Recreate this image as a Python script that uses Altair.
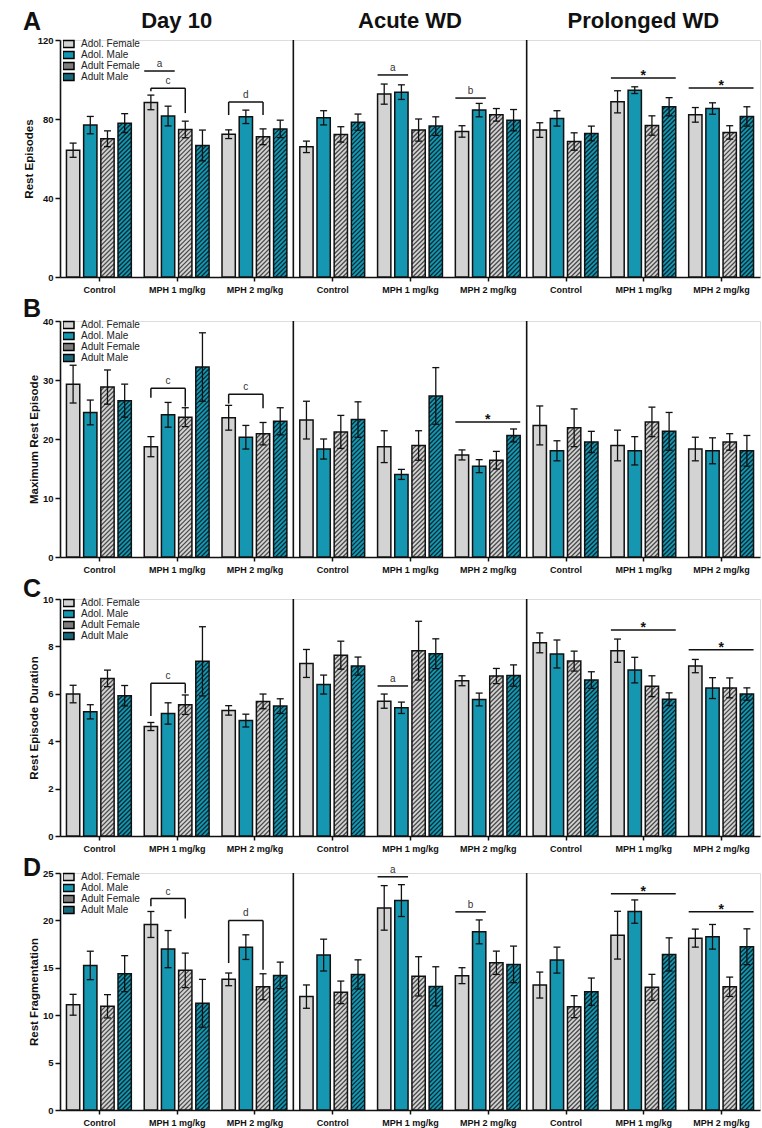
import json
import altair as alt
import pandas as pd

FONT = "Liberation Sans"

series = ["Adol. Female", "Adol. Male", "Adult Female", "Adult Male"]
hatched_series = ["Adult Female", "Adult Male"]
phases = ["Day 10", "Acute WD", "Prolonged WD"]
treatments = ["Control", "MPH 1 mg/kg", "MPH 2 mg/kg"]

# ---- data: 9 groups (phase x treatment), 4 series each ----
rest_ep_mean = [
    [64.2, 76.9, 70.0, 77.9], [88.4, 81.5, 74.7, 66.6], [72.3, 81.1, 71.0, 75.0],
    [65.9, 80.6, 72.2, 78.4], [92.6, 93.6, 74.4, 76.4], [73.7, 84.5, 82.1, 79.4],
    [74.4, 80.3, 68.6, 72.7], [88.7, 94.6, 76.7, 86.2], [82.1, 85.3, 73.2, 81.3],
]
rest_ep_sem = [
    [3.6, 4.4, 4.0, 4.8], [3.7, 5.0, 4.2, 7.8], [2.2, 3.4, 4.0, 4.4],
    [2.9, 3.6, 3.9, 4.1], [5.1, 3.7, 5.6, 4.7], [2.9, 3.4, 3.2, 5.4],
    [3.7, 3.9, 4.4, 3.7], [5.6, 1.7, 4.9, 4.6], [3.7, 2.9, 3.4, 4.9],
]
max_rest_mean = [
    [29.3, 24.5, 28.8, 26.5], [18.7, 24.1, 23.7, 32.2], [23.6, 20.3, 20.9, 23.0],
    [23.2, 18.3, 21.2, 23.3], [18.7, 14.0, 18.9, 27.3], [17.3, 15.4, 16.4, 20.6],
    [22.3, 18.0, 21.9, 19.5], [18.9, 18.0, 22.9, 21.3], [18.3, 18.0, 19.5, 18.0],
]
max_rest_sem = [
    [3.2, 2.1, 2.9, 2.8], [1.7, 2.1, 1.6, 5.8], [2.1, 2.0, 1.9, 2.3],
    [3.2, 1.7, 2.8, 3.0], [2.7, 0.85, 2.5, 4.8], [0.85, 1.1, 1.5, 1.1],
    [3.3, 1.7, 3.2, 1.8], [2.6, 2.4, 2.5, 3.2], [2.0, 2.2, 1.4, 2.6],
]
duration_mean = [
    [5.99, 5.24, 6.65, 5.92], [4.62, 5.17, 5.54, 7.37], [5.30, 4.87, 5.68, 5.48],
    [7.28, 6.39, 7.63, 7.17], [5.69, 5.41, 7.82, 7.69], [6.55, 5.76, 6.75, 6.77],
    [8.15, 7.68, 7.38, 6.58], [7.82, 7.00, 6.32, 5.77], [7.17, 6.24, 6.25, 5.99],
]
duration_sem = [
    [0.37, 0.30, 0.35, 0.43], [0.17, 0.45, 0.41, 1.46], [0.20, 0.27, 0.31, 0.31],
    [0.59, 0.40, 0.59, 0.38], [0.30, 0.24, 1.24, 0.63], [0.21, 0.27, 0.32, 0.45],
    [0.42, 0.59, 0.42, 0.35], [0.49, 0.54, 0.44, 0.27], [0.28, 0.44, 0.42, 0.26],
]
frag_mean = [
    [11.1, 15.25, 10.94, 14.38], [19.57, 16.97, 14.73, 11.26], [13.78, 17.18, 13.0, 14.2],
    [11.96, 16.34, 12.41, 14.3], [21.32, 22.09, 14.1, 13.04], [14.17, 18.79, 15.53, 15.36],
    [13.18, 15.81, 10.9, 12.48], [18.44, 20.93, 12.94, 16.41], [18.13, 18.27, 13.0, 17.22],
]
frag_sem = [
    [1.1, 1.5, 1.23, 1.9], [1.37, 1.96, 1.82, 2.52], [0.67, 1.3, 1.37, 1.4],
    [1.23, 1.68, 1.19, 1.54], [2.35, 1.68, 2.07, 2.07], [0.84, 1.26, 1.23, 1.93],
    [1.37, 1.37, 1.16, 1.44], [2.52, 1.23, 1.37, 1.75], [0.95, 1.3, 1.02, 1.89],
]

# significance annotations
# lines: (group, first bar, last bar, y, label)
# brackets: (group, first bar, last bar, y, left-leg end, right-leg end, label)
lines_A = [(1, 0, 1, 104.3, "a"), (4, 0, 1, 102.3, "a"), (5, 0, 1, 90.6, "b"),
           (7, 0, 3, 100.8, "*"), (8, 0, 3, 95.7, "*")]
brackets_A = [(1, 0, 2, 95.6, 94.0, 83.0, "c"), (2, 0, 2, 88.6, 82.0, 82.0, "d")]
lines_B = [(5, 0, 3, 22.9, "*")]
brackets_B = [(1, 0, 2, 28.6, 27.0, 25.5, "c"), (2, 0, 2, 27.6, 26.0, 25.2, "c")]
lines_C = [(4, 0, 1, 6.33, "a"), (7, 0, 3, 8.69, "*"), (8, 0, 3, 7.86, "*")]
brackets_C = [(1, 0, 2, 6.44, 5.06, 6.02, "c")]
lines_D = [(4, 0, 1, 24.6, "a"), (5, 0, 1, 20.9, "b"), (7, 0, 3, 22.8, "*"), (8, 0, 3, 20.9, "*")]
brackets_D = [(1, 0, 2, 22.3, 21.5, 20.2, "c"), (2, 0, 2, 20.0, 15.5, 14.8, "d")]

panels = [
    dict(letter="A", ytitle="Rest Episodes", ymax=120, step=20, mean=rest_ep_mean, sem=rest_ep_sem,
         lines=lines_A, brackets=brackets_A, height=237, letter_y=-10, titles=True),
    dict(letter="B", ytitle="Maximum Rest Episode", ymax=40, step=10, mean=max_rest_mean, sem=max_rest_sem,
         lines=lines_B, brackets=brackets_B, height=236, letter_y=-4, titles=False),
    dict(letter="C", ytitle="Rest Episode Duration", ymax=10, step=2, mean=duration_mean, sem=duration_sem,
         lines=lines_C, brackets=brackets_C, height=237, letter_y=-2, titles=False),
    dict(letter="D", ytitle="Rest Fragmentation", ymax=25, step=5, mean=frag_mean, sem=frag_sem,
         lines=lines_D, brackets=brackets_D, height=237, letter_y=3, titles=False),
]

# ---- style / layout ----
PLOT_W = 700
NG = len(phases) * len(treatments)
PITCH = 0.221       # bar pitch in group units
BAR_W = 0.171       # bar width in group units
CAP = 0.045         # half cap width in group units
HATCH_D = 4.5       # hatch period (px)
bar_fill = ["#d3d3d3", "#1597b2", "#d3d3d3", "#1597b2"]
legend_fill = ["#d3d3d3", "#1597b2", "#7d7d7d", "#17687a"]
hatch_col = ["#4a4a4a", "#072a32"]
INK = "#111111"


def bar_center(g, k):
    return g + 0.5 + (k - 1.5) * PITCH


def build_bars(mean, sem):
    rows = []
    for g in range(NG):
        for k, s in enumerate(series):
            c = bar_center(g, k)
            m, e = mean[g][k], sem[g][k]
            rows.append(dict(group=g, series=s, k=k, mean=m, sem=e, xc=c,
                             x0=c - BAR_W / 2, x1=c + BAR_W / 2, lo=m - e, hi=m + e,
                             hatched=s in hatched_series))
    return pd.DataFrame(rows)


def build_hatch(df, H, ymax):
    pxx = PLOT_W / NG
    pxy = H / ymax
    rows = []
    for r in df[df.hatched].itertuples():
        xl = r.x0 * pxx
        W = (r.x1 - r.x0) * pxx
        Ht = r.mean * pxy
        c = -W - (xl % HATCH_D)
        while c <= Ht:
            a = max(0.0, -c)
            b = min(W, Ht - c)
            if b - a > 0.3:
                rows.append(dict(series=r.series,
                                 hx0=(xl + a) / pxx, hx1=(xl + b) / pxx,
                                 hy0=(a + c) / pxy, hy1=(b + c) / pxy))
            c += HATCH_D
    return pd.DataFrame(rows)


def make_panel(cfg):
    H, ymax = cfg["height"], cfg["ymax"]
    df = build_bars(cfg["mean"], cfg["sem"])
    hatch = build_hatch(df, H, ymax)
    caps = pd.concat([
        pd.DataFrame(dict(xa=df.xc - CAP, xb=df.xc + CAP, yv=df.lo)),
        pd.DataFrame(dict(xa=df.xc - CAP, xb=df.xc + CAP, yv=df.hi)),
    ])
    label_expr = json.dumps(treatments) + "[floor(datum.value) % " + str(len(treatments)) + "]"
    xscale = alt.Scale(domain=[0, NG], nice=False, zero=False)
    yscale = alt.Scale(domain=[0, ymax], nice=False)
    xaxis = alt.Axis(values=[g + 0.5 for g in range(NG)], labelExpr=label_expr, title=None,
                     grid=False, domainColor=INK, domainWidth=1.6, tickColor=INK, tickWidth=1.5,
                     tickSize=4, labelFont=FONT, labelFontWeight="bold", labelFontSize=9,
                     labelColor=INK, labelPadding=4, labelOverlap=False, labelFlush=False)
    yaxis = alt.Axis(values=list(range(0, ymax + 1, cfg["step"])), title=cfg["ytitle"], grid=False,
                     domainColor=INK, domainWidth=1.6, tickColor=INK, tickWidth=1.5, tickSize=5,
                     labelFont=FONT, labelFontWeight="bold", labelFontSize=9.5, labelColor=INK,
                     labelPadding=2, titleFont=FONT, titleFontWeight="bold", titleFontSize=11.5,
                     titleColor=INK, titlePadding=3)

    base = alt.Chart(df)
    fills = base.mark_bar(strokeWidth=0).encode(
        x=alt.X("x0:Q", scale=xscale, axis=xaxis), x2="x1:Q",
        y=alt.Y("mean:Q", scale=yscale, axis=yaxis), y2=alt.datum(0),
        fill=alt.Fill("series:N", scale=alt.Scale(domain=series, range=bar_fill), legend=None),
    )
    hatches = alt.Chart(hatch).mark_rule(strokeWidth=1.3, strokeCap="butt").encode(
        x="hx0:Q", x2="hx1:Q", y="hy0:Q", y2="hy1:Q",
        stroke=alt.Stroke("series:N", scale=alt.Scale(domain=hatched_series, range=hatch_col), legend=None),
    )
    outline = base.mark_bar(fillOpacity=0, stroke=INK, strokeWidth=1.5).encode(
        x="x0:Q", x2="x1:Q", y="mean:Q", y2=alt.datum(0))
    err = base.mark_rule(color=INK, strokeWidth=1.3).encode(x="xc:Q", y="lo:Q", y2="hi:Q")
    cap = alt.Chart(caps).mark_rule(color=INK, strokeWidth=1.3).encode(x="xa:Q", x2="xb:Q", y="yv:Q")

    seps = alt.Chart(pd.DataFrame(dict(x=[len(treatments) * p for p in range(1, len(phases))]))).mark_rule(
        color=INK, strokeWidth=1.6).encode(x="x:Q", y=alt.value(0), y2=alt.value(H))

    line_rows, leg_rows, lab_rows = [], [], []
    for g, k1, k2, y, lab in cfg["lines"]:
        xa, xb = bar_center(g, k1) - BAR_W / 2, bar_center(g, k2) + BAR_W / 2
        line_rows.append(dict(xa=xa, xb=xb, y=y))
        lab_rows.append(dict(x=(xa + xb) / 2, y=y, label=lab, star=lab == "*"))
    for g, k1, k2, y, yl, yr, lab in cfg["brackets"]:
        xa, xb = bar_center(g, k1), bar_center(g, k2)
        line_rows.append(dict(xa=xa, xb=xb, y=y))
        leg_rows.append(dict(x=xa, yt=y, yb=yl))
        leg_rows.append(dict(x=xb, yt=y, yb=yr))
        lab_rows.append(dict(x=(xa + xb) / 2, y=y, label=lab, star=lab == "*"))
    ann_lines = alt.Chart(pd.DataFrame(line_rows)).mark_rule(color=INK, strokeWidth=1.5).encode(
        x="xa:Q", x2="xb:Q", y="y:Q")
    layers = [fills, hatches, outline, err, cap, seps, ann_lines]
    if leg_rows:
        layers.append(alt.Chart(pd.DataFrame(leg_rows)).mark_rule(color=INK, strokeWidth=1.5).encode(
            x="x:Q", y="yt:Q", y2="yb:Q"))
    labs = pd.DataFrame(lab_rows)
    letters = labs[~labs.star]
    stars = labs[labs.star]
    if len(letters):
        layers.append(alt.Chart(letters).mark_text(font=FONT, fontSize=10, color="#333333",
                                                   baseline="alphabetic", dy=-4).encode(
            x="x:Q", y="y:Q", text="label:N"))
    if len(stars):
        layers.append(alt.Chart(stars).mark_text(font=FONT, fontSize=14, fontWeight="bold", color=INK,
                                                 baseline="alphabetic", dy=2).encode(
            x="x:Q", y="y:Q", text="label:N"))

    if cfg["titles"]:
        tdf = pd.DataFrame(dict(x=[len(treatments) * p + len(treatments) / 2 for p in range(len(phases))],
                                t=phases))
        layers.append(alt.Chart(tdf).mark_text(font=FONT, fontSize=22, fontWeight="bold", color=INK,
                                               baseline="alphabetic").encode(
            x="x:Q", y=alt.value(-12), text="t:N"))

    layers.append(alt.Chart(pd.DataFrame(dict(t=[cfg["letter"]]))).mark_text(
        font=FONT, fontSize=25, fontWeight="bold", color=INK, align="left", baseline="alphabetic").encode(
        x=alt.value(-37), y=alt.value(cfg["letter_y"]), text="t:N"))

    legend = alt.Legend(title=None, orient="none", legendX=3, legendY=-1.5,
                        symbolType="M-1.16,-0.74H1.16V0.74H-1.16Z", symbolSize=90, symbolStrokeColor="black",
                        symbolStrokeWidth=1.5, symbolOpacity=1, labelFont=FONT, labelFontSize=10,
                        labelColor="#222222", labelOffset=7, rowPadding=0, clipHeight=10.8,
                        padding=0, labelLimit=300)
    layers.append(base.mark_point(filled=True, clip=True, opacity=1, size=20, stroke="black",
                                  strokeWidth=1.5).encode(
        x="xc:Q", y=alt.datum(-100000),
        color=alt.Color("series:N", scale=alt.Scale(domain=series, range=legend_fill), legend=legend)))

    return alt.layer(*layers).properties(width=PLOT_W, height=H)


chart = alt.vconcat(*[make_panel(c) for c in panels], spacing=1).resolve_scale(
    color="independent").properties(
    padding={"left": 22, "top": 9, "right": 0, "bottom": 0}
).configure_view(stroke=None).configure(background="white")

chart.save("out.html", embed_options={"renderer": "svg", "actions": False})
